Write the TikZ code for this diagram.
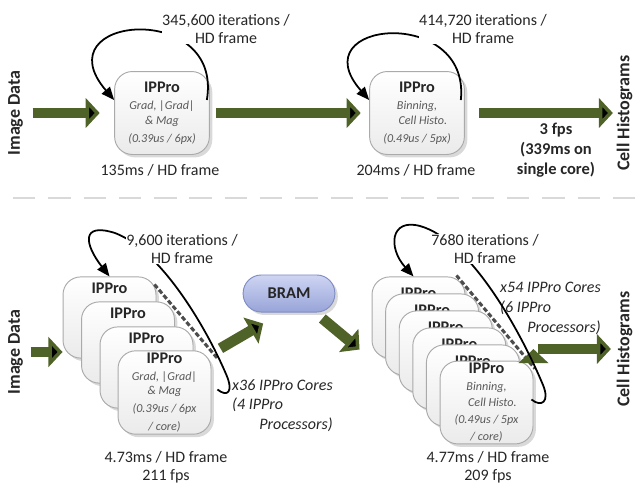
\documentclass[tikz,border=0pt]{standalone}
\usepackage{fontspec}
\setmainfont{Carlito}
\usetikzlibrary{arrows.meta,shadows}

\definecolor{olivegreen}{RGB}{79,98,40}
\definecolor{txtgray}{RGB}{89,89,89}
\definecolor{coreline}{RGB}{170,170,170}
\definecolor{bramtop}{RGB}{206,213,243}
\definecolor{brambot}{RGB}{152,164,216}
\definecolor{bramline}{RGB}{128,140,196}

\newcommand{\coretext}[1]{{\mdseries\itshape\fontsize{10.3}{12.5}\selectfont\color{txtgray}#1}}

\begin{document}
\begin{tikzpicture}[x=0.85pt,y=-0.85pt,
  font=\fontsize{13.6}{15.5}\selectfont,text=black!85,
  side label/.style={font=\bfseries\fontsize{15.3}{18}\selectfont,rotate=90,inner sep=0pt},
  core node/.style={draw=coreline,line width=0.8pt,rounded corners=15pt,
    top color=white,bottom color=black!8,align=center,inner sep=1.5pt,
    minimum width=80.5pt,minimum height=70.5pt,
    font=\bfseries\fontsize{13.8}{12.5}\selectfont,
    drop shadow={shadow xshift=2.5pt,shadow yshift=-2.5pt,fill=black,opacity=0.15}},
  stack node/.style={core node,minimum width=79pt,minimum height=69pt},
  left back/.style={stack node,inner ysep=3pt,text height=10.9pt,text depth=52.1pt},
  right back/.style={stack node,inner ysep=3pt,text height=15.3pt,text depth=47.7pt},
  bram node/.style={draw=bramline,line width=0.8pt,rounded corners=15.5pt,
    top color=bramtop,bottom color=brambot,minimum width=78pt,minimum height=31.5pt,
    font=\bfseries\fontsize{14}{16}\selectfont,
    drop shadow={shadow xshift=2.5pt,shadow yshift=-2.5pt,fill=black,opacity=0.15}},
  iter label/.style={align=center,fill=white,inner sep=0.5pt},
  cores label/.style={font=\itshape\fontsize{13.6}{16.8}\selectfont,align=left,anchor=north west,inner sep=0pt},
  big arrow/.style={draw=olivegreen,line width=9pt,-{Triangle[length=12pt,width=25pt]}},
  loop arrow/.style={draw=black,line width=1.5pt,-{Triangle[length=11pt,width=9pt]}},
  stack dash/.style={draw=black!70,line width=2.6pt,dash pattern=on 4pt off 2pt},
  sep line/.style={draw=black!15,line width=1.5pt,dash pattern=on 19pt off 11pt}]

  \useasboundingbox (0,0) rectangle (636,484);
  \clip (0,0) rectangle (636,484);

  % single core
  \node[side label] (img1) at (15.5,113) {Image Data};
  \node[core node] (ipp1) at (162,113) {IPPro\\[2pt]\coretext{Grad, |Grad|}\\\coretext{\& Mag}\\[3pt]\coretext{(0.39us / 6px)}};
  \node[core node] (ipp2) at (417,113) {IPPro\\[2pt]\coretext{Binning,}\\\coretext{\hspace*{10pt}Cell Histo.}\\[3pt]\coretext{(0.49us / 5px)}};
  \node[side label] (hist1) at (624.5,113) {Cell Histograms};

  \node (time1) at (160,170) {135ms / HD frame};
  \node (time2) at (416,170) {204ms / HD frame};
  \node[align=center,font=\bfseries\fontsize{14}{17}\selectfont] (fps1) at (556,150) {3 fps\\(339ms on\\single core)};

  \draw[sep line] (13,198) -- (636,198);

  % many cores
  \node[side label] (img2) at (15.5,352) {Image Data};
  \node[left back] (lgrad1) at (109.5,317.5) {IPPro};
  \node[left back] (lgrad2) at (128,342.5) {IPPro};
  \node[left back] (lgrad3) at (146.5,367.5) {IPPro};
  \node[stack node] (lgrad4) at (164.5,392.5) {IPPro\\[2pt]\coretext{Grad, |Grad|}\\\coretext{\& Mag}\\[2.5pt]\coretext{(0.39us / 6px}\\[3pt]\coretext{/ core)}};

  \node[bram node] (bram) at (289,293.5) {BRAM};

  \node[right back] (rbin1) at (418.5,317.5) {IPPro};
  \node[right back] (rbin2) at (432.1,334.5) {IPPro};
  \node[right back] (rbin3) at (445.7,351.5) {IPPro};
  \node[right back] (rbin4) at (459.3,368.5) {IPPro};
  \node[right back] (rbin5) at (472.9,385.5) {IPPro};
  \node[stack node] (rbin6) at (486.5,402.5) {IPPro\\[2pt]\coretext{Binning,}\\[1pt]\coretext{\hspace*{10pt}Cell Histo.}\\[2pt]\coretext{(0.49us / 5px}\\[2pt]\coretext{/ core)}};
  \node[side label] (hist2) at (624.5,349) {Cell Histograms};

  \node[cores label] (cores1) at (232,379) {x36 IPPro Cores\\(4 IPPro\\\hspace*{23pt}Processors)};
  \node[cores label] (cores2) at (500,282) {x54 IPPro Cores\\(6 IPPro\\\hspace*{23pt}Processors)};
  \node[align=center] (time3) at (166,467) {4.73ms / HD frame\\211 fps};
  \node[align=center] (time4) at (488,467) {4.77ms / HD frame\\209 fps};

  \draw[stack dash] ([shift={(-2,8)}]lgrad1.north east) -- ([shift={(6,8)}]lgrad4.north east);
  \draw[stack dash] ([shift={(-9,-1)}]rbin1.north east) -- ([shift={(1.5,8)}]rbin6.north east);

  \path[big arrow]
    (img1) edge[shorten <=8pt,shorten >=12.3pt] (ipp1)
    (ipp1) edge[shorten <=5.5pt,shorten >=7.2pt] (ipp2)
    (ipp2) edge[shorten <=12.3pt,shorten >=3pt] (hist1)
    (img2) edge[shorten <=6.4pt] (img2 -| lgrad1.west)
    ([shift={(9,-2)}]lgrad4.north east) edge ([shift={(20.5,11)}]bram.south west)
    ([shift={(-13,6)}]bram.south east) edge ([shift={(-12,32)}]rbin1.west)
    (rbin6.east |- hist2) edge[shorten <=4.2pt,shorten >=4.7pt] (hist2);

  \draw[loop arrow] ([shift={(-3,-13)}]ipp1.east) .. controls +(17,-100) and +(-73,-85) .. ([shift={(0,-13)}]ipp1.west);
  \draw[loop arrow] ([shift={(-4,-13)}]ipp2.east) .. controls +(10,-95) and +(-70,-80) .. ([shift={(0,-13)}]ipp2.west);
  \draw[loop arrow] ([shift={(6,-3)}]lgrad4.east) .. controls +(10,8) and +(8,18) .. (226,374)
    .. controls (205,325) and (160,250) .. (115,233) .. controls (80,222) and (85,245) .. (lgrad1.north);
  \draw[loop arrow] ([shift={(-2,-3)}]rbin6.east) .. controls +(10,8) and +(7,17) .. (543,385)
    .. controls (520,330) and (470,240) .. (420,226) .. controls (390,218) and (388,248) .. ([shift={(-5,0)}]rbin1.north);

  % loop labels over the loops
  \node[iter label] (iter1) at (226,29) {345,600 iterations /\\HD frame};
  \node[iter label] (iter2) at (483,29) {414,720 iterations /\\HD frame};
  \node[iter label] (iter3) at (182,249) {9,600 iterations /\\HD frame};
  \node[iter label] (iter4) at (485,249) {7680 iterations /\\HD frame};
\end{tikzpicture}
\end{document}
